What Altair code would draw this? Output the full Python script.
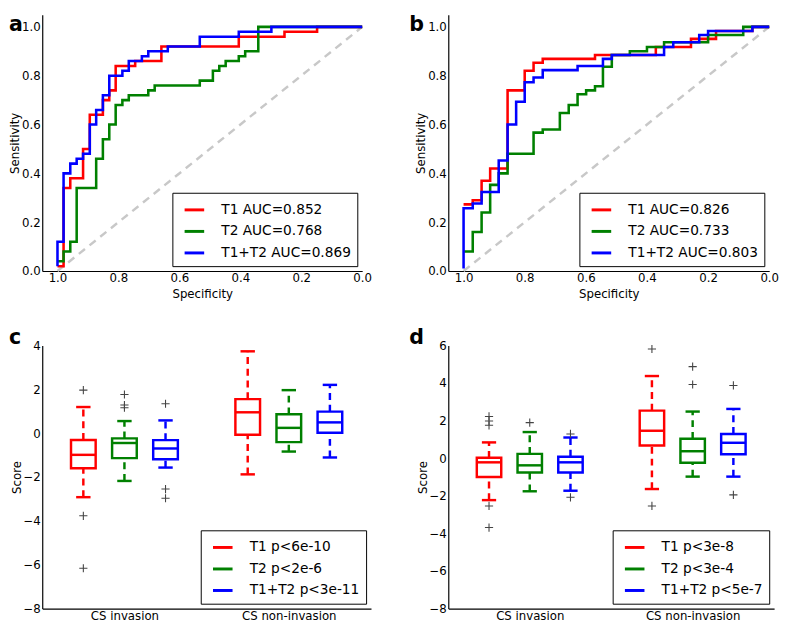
import altair as alt
import pandas as pd

FONT = "DejaVu Sans"
COLORS = ["#ff0000", "#008000", "#0000ff"]

# ---------------- Panel a: ROC (specificity, sensitivity step points) ----------------
a_t1_spec = [1.0, 0.980, 0.958, 0.916, 0.894, 0.851, 0.830, 0.809, 0.745, 0.659, 0.405, 0.255, 0.148, 0.0]
a_t1_sens = [0.02, 0.34, 0.38, 0.50, 0.64, 0.70, 0.74, 0.84, 0.86, 0.92, 0.96, 0.98, 1.00, 1.00]
a_t2_spec = [1.0, 0.980, 0.958, 0.937, 0.873, 0.851, 0.830, 0.809, 0.787, 0.766, 0.702, 0.681,
             0.533, 0.490, 0.469, 0.448, 0.405, 0.384, 0.341, 0.0]
a_t2_sens = [0.04, 0.08, 0.12, 0.34, 0.46, 0.54, 0.60, 0.68, 0.70, 0.72, 0.74, 0.76,
             0.78, 0.82, 0.84, 0.86, 0.88, 0.90, 1.00, 1.00]
a_t12_spec = [1.0, 1.0, 0.980, 0.958, 0.937, 0.916, 0.894, 0.873, 0.851, 0.830, 0.787, 0.766,
              0.723, 0.702, 0.638, 0.533, 0.405, 0.298, 0.0]
a_t12_sens = [0.02, 0.12, 0.40, 0.44, 0.46, 0.48, 0.60, 0.66, 0.72, 0.80, 0.82, 0.86,
              0.88, 0.90, 0.92, 0.96, 0.98, 1.00, 1.00]
a_labels = ["T1 AUC=0.852", "T2 AUC=0.768", "T1+T2 AUC=0.869"]

# ---------------- Panel b: ROC ----------------
b_t1_spec = [1.0, 0.970, 0.941, 0.913, 0.856, 0.800, 0.771, 0.741, 0.570, 0.371, 0.256, 0.174, 0.055, 0.0]
b_t1_sens = [0.273, 0.29, 0.37, 0.42, 0.74, 0.82, 0.853, 0.869, 0.885, 0.918, 0.951, 0.983, 1.0, 1.0]
b_t2_spec = [1.0, 0.970, 0.941, 0.913, 0.885, 0.856, 0.771, 0.741, 0.685, 0.656, 0.627, 0.599,
             0.570, 0.544, 0.515, 0.456, 0.400, 0.344, 0.200, 0.085, 0.0]
b_t2_sens = [0.08, 0.16, 0.24, 0.353, 0.40, 0.48, 0.567, 0.58, 0.647, 0.68, 0.724, 0.74,
             0.757, 0.837, 0.885, 0.90, 0.918, 0.937, 0.967, 1.0, 1.0]
b_t12_spec = [1.0, 1.0, 0.970, 0.941, 0.885, 0.856, 0.828, 0.800, 0.771, 0.741, 0.627, 0.544,
              0.515, 0.344, 0.314, 0.229, 0.200, 0.055, 0.0]
b_t12_sens = [0.01, 0.257, 0.277, 0.324, 0.453, 0.60, 0.693, 0.773, 0.793, 0.823, 0.84, 0.869,
              0.885, 0.918, 0.937, 0.967, 0.983, 1.0, 1.0]
b_labels = ["T1 AUC=0.826", "T2 AUC=0.733", "T1+T2 AUC=0.803"]

diag_spec = [1.0, 0.0]
diag_sens = [0.0, 1.0]
roc_ticks = [0.0, 0.2, 0.4, 0.6, 0.8, 1.0]

# ---------------- Panels c, d: box plot statistics ----------------
groups = ["CS invasion", "CS non-invasion"]
group_pos = [2, 6]
box_pos = [1, 2, 3, 5, 6, 7]
box_series = [0, 1, 2, 0, 1, 2]

c_low = [-2.92, -2.18, -1.57, -1.88, -0.84, -1.11]
c_q1 = [-1.60, -1.14, -1.19, -0.07, -0.41, 0.02]
c_med = [-0.99, -0.45, -0.70, 0.95, 0.24, 0.49]
c_q3 = [-0.31, -0.24, -0.32, 1.55, 0.86, 0.98]
c_high = [1.19, 0.55, 0.58, 3.73, 1.96, 2.20]
c_out_pos = [1, 1, 1, 2, 2, 2, 3, 3, 3]
c_out_val = [1.96, -3.77, -6.16, 1.76, 1.28, 1.16, 1.34, -2.55, -2.97]
c_labels = ["T1 p<6e-10", "T2 p<2e-6", "T1+T2 p<3e-11"]

d_low = [-2.23, -1.76, -1.73, -1.64, -0.98, -0.98]
d_q1 = [-1.00, -0.76, -0.76, 0.68, -0.24, 0.21]
d_med = [-0.22, -0.38, -0.22, 1.46, 0.37, 0.82]
d_q3 = [0.02, 0.23, 0.08, 2.53, 1.03, 1.29]
d_high = [0.84, 1.39, 1.10, 4.37, 2.48, 2.62]
d_out_pos = [1, 1, 1, 1, 1, 2, 3, 3, 5, 5, 6, 6, 7, 7]
d_out_val = [2.22, 1.98, 1.75, -2.54, -3.69, 1.89, 1.29, -2.08, 5.81, -2.54, 4.87, 3.92, 3.87, -1.95]
d_labels = ["T1 p<3e-8", "T2 p<3e-4", "T1+T2 p<5e-7"]


def make_legend():
    return alt.Legend(title=None, orient="bottom-right", offset=5, fillColor="white",
                      strokeColor="black", padding=6, symbolType="stroke", symbolStrokeWidth=3,
                      symbolSize=400, symbolOffset=5, labelFontSize=14, labelFont=FONT,
                      labelColor="black", labelOffset=16, rowPadding=3, symbolOpacity=1,
                      labelLimit=300)


def make_axis(title, values, fmt=None, label_expr=None, title_pad=0):
    kw = dict(title=title, values=values, grid=False, ticks=False, domainColor="black",
              domainWidth=1.2, labelFont=FONT, labelFontSize=12, labelColor="black",
              titleFont=FONT, titleFontSize=12, titleFontWeight="normal", titleColor="black",
              labelPadding=2, labelFlush=False, labelOverlap=False, titlePadding=title_pad)
    if fmt:
        kw["format"] = fmt
    if label_expr:
        kw["labelExpr"] = label_expr
    return alt.Axis(**kw)


def letter_layer(letter, x_off, y_off):
    return alt.Chart(pd.DataFrame({"t": [letter]})).mark_text(
        font=FONT, fontSize=21, fontWeight="bold", color="black", align="left", baseline="top"
    ).encode(text="t:N", x=alt.value(x_off), y=alt.value(y_off))


def roc_panel(letter, specs, senss, labels, width, x_off):
    rows = []
    for lab, sp, se in zip(labels, specs, senss):
        for i, (s, v) in enumerate(zip(sp, se)):
            rows.append({"series": lab, "spec": s, "sens": v, "idx": i})
    df = pd.DataFrame(rows)
    xsc = alt.Scale(domain=[0, 1.05], reverse=True, nice=False, zero=False)
    ysc = alt.Scale(domain=[0, 1.05], nice=False, zero=False)
    xenc = alt.X("spec:Q", scale=xsc, axis=make_axis("Specificity", roc_ticks, ".1f", title_pad=5))
    yenc = alt.Y("sens:Q", scale=ysc, axis=make_axis("Sensitivity", roc_ticks, ".1f"))
    diag = alt.Chart(pd.DataFrame({"spec": diag_spec, "sens": diag_sens})).mark_line(
        color="#c8c8c8", strokeWidth=2.5, strokeDash=[8, 6]).encode(x=xenc, y=yenc)
    lines = alt.Chart(df).mark_line(interpolate="step-after", strokeWidth=2.6).encode(
        x=xenc, y=yenc,
        color=alt.Color("series:N", scale=alt.Scale(domain=labels, range=COLORS), legend=make_legend()),
        order=alt.Order("idx:Q"))
    return alt.layer(diag, lines, letter_layer(letter, x_off, 0)).properties(width=width, height=262)


def box_panel(letter, low, q1, med, q3, high, out_pos, out_val, labels, ydom, yvals, width, x_off):
    df = pd.DataFrame({"pos": box_pos, "series": [labels[k] for k in box_series],
                       "low": low, "q1": q1, "med": med, "q3": q3, "high": high})
    out_df = pd.DataFrame({"pos": out_pos, "val": out_val})
    label_expr = "datum.value == %d ? '%s' : '%s'" % (group_pos[0], groups[0], groups[1])
    xsc = alt.Scale(domain=[0, 8], nice=False, zero=False)
    ysc = alt.Scale(domain=ydom, nice=False, zero=False)
    xaxis = make_axis(None, group_pos, label_expr=label_expr)
    yaxis = make_axis("Score", yvals, "d")

    def X(f):
        return alt.X(f, scale=xsc, axis=xaxis)

    def Y(f):
        return alt.Y(f, scale=ysc, axis=yaxis)

    cscale = alt.Scale(domain=labels, range=COLORS)
    col_nolegend = alt.Color("series:N", scale=cscale, legend=None)
    base = alt.Chart(df).transform_calculate(
        bl="datum.pos - 0.3", br="datum.pos + 0.3", cl="datum.pos - 0.175", cr="datum.pos + 0.175")

    box = base.mark_rect(filled=False, strokeWidth=2.5).encode(
        x=X("bl:Q"), x2="br:Q", y=Y("q1:Q"), y2="q3:Q",
        color=alt.Color("series:N", scale=cscale, legend=make_legend()))
    wh_up = base.mark_rule(strokeWidth=2.5, strokeDash=[7, 5]).encode(
        x=X("pos:Q"), y=Y("q3:Q"), y2="high:Q", color=col_nolegend)
    wh_lo = base.mark_rule(strokeWidth=2.5, strokeDash=[7, 5]).encode(
        x=X("pos:Q"), y=Y("low:Q"), y2="q1:Q", color=col_nolegend)
    cap_up = base.mark_rule(strokeWidth=2.5).encode(
        x=X("cl:Q"), x2="cr:Q", y=Y("high:Q"), color=col_nolegend)
    cap_lo = base.mark_rule(strokeWidth=2.5).encode(
        x=X("cl:Q"), x2="cr:Q", y=Y("low:Q"), color=col_nolegend)
    median = base.mark_rule(strokeWidth=2.5).encode(
        x=X("bl:Q"), x2="br:Q", y=Y("med:Q"), color=col_nolegend)
    outl = alt.Chart(out_df).mark_point(shape="M-1,0L1,0M0,-1L0,1", size=70, filled=False,
                                        strokeWidth=1.1, color="#444444", opacity=1).encode(
        x=X("pos:Q"), y=Y("val:Q"))
    return alt.layer(box, wh_up, wh_lo, cap_up, cap_lo, median, outl,
                     letter_layer(letter, x_off, -18)).properties(width=width, height=269)


a = roc_panel("a", [a_t1_spec, a_t2_spec, a_t12_spec], [a_t1_sens, a_t2_sens, a_t12_sens], a_labels, 327, -34)
b = roc_panel("b", [b_t1_spec, b_t2_spec, b_t12_spec], [b_t1_sens, b_t2_sens, b_t12_sens], b_labels, 328, -40)
c = box_panel("c", c_low, c_q1, c_med, c_q3, c_high, c_out_pos, c_out_val, c_labels,
              [-8, 4], [-8, -6, -4, -2, 0, 2, 4], 336, -34)
d = box_panel("d", d_low, d_q1, d_med, d_q3, d_high, d_out_pos, d_out_val, d_labels,
              [-8, 6], [-8, -6, -4, -2, 0, 2, 4, 6], 333, -40)

top = alt.hconcat(a, b, spacing=38).resolve_scale(color="independent", x="independent", y="independent").resolve_legend(color="independent")
bottom = alt.hconcat(c, d, spacing=39).resolve_scale(color="independent", x="independent", y="independent").resolve_legend(color="independent")
chart = alt.vconcat(top, bottom, spacing=29).resolve_scale(
    color="independent", x="independent", y="independent").resolve_legend(color="independent").properties(
    padding={"left": 0, "top": 0, "right": 0, "bottom": 0}, background="white"
).configure_view(stroke=None)

chart.save("out.html", embed_options={"renderer": "svg", "actions": False})
